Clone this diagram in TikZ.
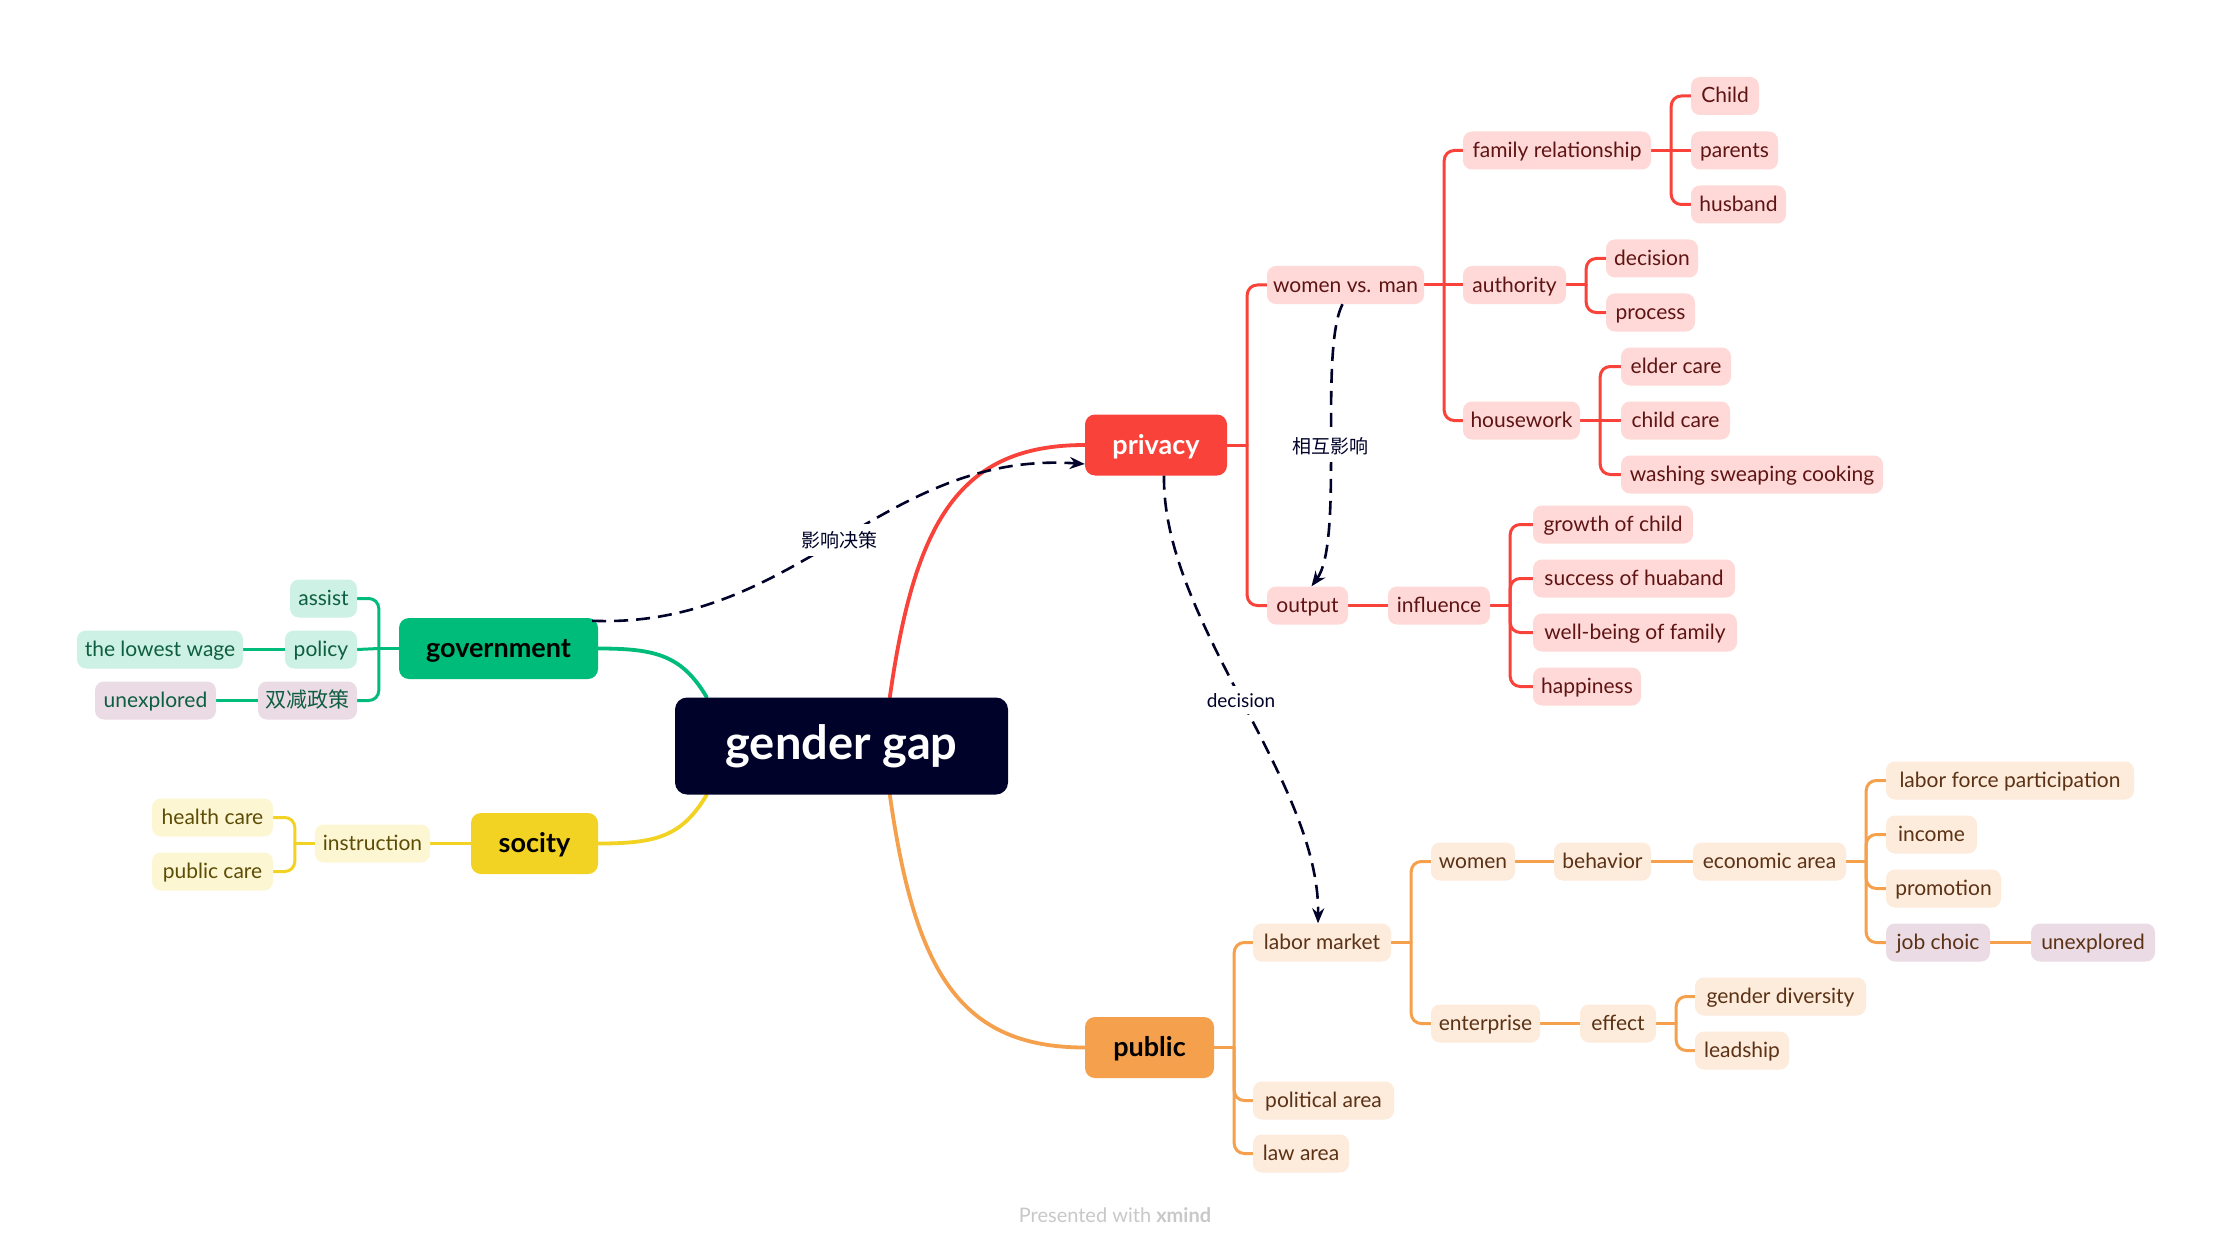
\documentclass[tikz,border=0pt]{standalone}
\usepackage{fontspec}
\setmainfont{Lato}
\newfontfamily\cjk{Noto Sans CJK SC}
\usetikzlibrary{arrows.meta}
\definecolor{navy}{HTML}{000229}
\definecolor{redline}{HTML}{F9423A}
\definecolor{redfill}{HTML}{FED9D7}
\definecolor{redtext}{HTML}{5F1414}
\definecolor{orline}{HTML}{F5A04D}
\definecolor{orfill}{HTML}{FDEBDB}
\definecolor{ortext}{HTML}{5B3216}
\definecolor{grline}{HTML}{00BC7B}
\definecolor{grfill}{HTML}{CDF1E4}
\definecolor{grtext}{HTML}{0E5E41}
\definecolor{yeline}{HTML}{F2D323}
\definecolor{yefill}{HTML}{FDF6D3}
\definecolor{yetext}{HTML}{5D4C05}
\definecolor{pufill}{HTML}{EBDBE4}
\definecolor{wmgray}{HTML}{C8C8C8}
\pgfdeclarelayer{back}
\pgfsetlayers{back,main}
\tikzset{
  base/.style={rounded corners=9pt, inner xsep=4pt, inner ysep=0pt, minimum height=38pt,
    text height=17pt, text depth=3pt, font=\fontsize{21}{25}\selectfont},
  rs/.style={base, fill=redfill, text=redtext},
  os/.style={base, fill=orfill, text=ortext},
  gs/.style={base, fill=grfill, text=grtext},
  ys/.style={base, fill=yefill, text=yetext},
  ps/.style={fill=pufill},
  maintopic/.style={rounded corners=10pt, minimum height=61pt, inner xsep=6pt, inner ysep=0pt,
    text height=21pt, text depth=3pt, font=\fontsize{27}{30}\selectfont\bfseries},
  rootnode/.style={rounded corners=12pt, minimum height=97pt, minimum width=333pt, fill=navy, text=white,
    text height=36pt, text depth=9pt, font=\fontsize{47}{52}\selectfont\bfseries},
  redl/.style={draw=redline, line width=3pt, line cap=round},
  orl/.style={draw=orline, line width=3pt, line cap=round},
  grl/.style={draw=grline, line width=3pt, line cap=round},
  yel/.style={draw=yeline, line width=3pt, line cap=round},
  mainl/.style={line width=3.8pt, line cap=round},
  rel/.style={draw=navy, line width=2.6pt, dash pattern=on 14pt off 8pt, -{Stealth[length=15pt,width=12pt]}},
  rellabel/.style={fill=white, text=navy, inner sep=7pt, font=\fontsize{19}{22}\selectfont},
}
\newcommand\rtree[3]{%
  \draw[#1] (#2.east) -- ++(20,0) coordinate (#2-t);
  \foreach \c in {#3} {\draw[#1, rounded corners=10pt] (#2-t) |- (\c.west);}
}
\newcommand\ltree[3]{%
  \draw[#1] (#2.west) -- ++(-20,0) coordinate (#2-t);
  \foreach \c in {#3} {\draw[#1, rounded corners=10pt] (#2-t) |- (\c.east);}
}
\begin{document}
\begin{tikzpicture}[x=1pt,y=-1pt]
\useasboundingbox (0,0) rectangle (2232,1249);

% root and main topics
\node[rootnode] (root) at (841.5,746) {gender gap};
\node[maintopic, fill=redline, text=white, minimum width=142pt] (privacy) at (1156,445) {privacy};
\node[maintopic, fill=grline, text=black, minimum width=199pt] (government) at (498.5,648.5) {government};
\node[maintopic, fill=yeline, text=black, minimum width=127pt] (socity) at (534.5,843.5) {socity};
\node[maintopic, fill=orline, text=black, minimum width=129pt] (public) at (1149.5,1047.5) {public};

% privacy branch
\node[rs, minimum width=157pt] (wvm) at (1345.5,285) {women vs. man};
\node[rs, minimum width=81pt] (output) at (1307.5,605.5) {output};
\node[rs, minimum width=188pt] (famrel) at (1557,150.5) {family relationship};
\node[rs, minimum width=103pt] (authority) at (1514.5,285) {authority};
\node[rs, minimum width=117pt] (housework) at (1521.5,420.5) {housework};
\node[rs, minimum width=68pt] (child) at (1725,96) {Child};
\node[rs, minimum width=87pt] (parents) at (1734.5,150.5) {parents};
\node[rs, minimum width=95pt] (husband) at (1738.5,204.5) {husband};
\node[rs, minimum width=92pt] (decision) at (1652,258.5) {decision};
\node[rs, minimum width=89pt] (process) at (1650.5,312.5) {process};
\node[rs, minimum width=110pt] (elder) at (1676,366.5) {elder care};
\node[rs, minimum width=109pt] (childcare) at (1675.5,420.5) {child care};
\node[rs, minimum width=262pt] (washing) at (1752,474.5) {washing sweaping cooking};
\node[rs, minimum width=102pt] (influence) at (1439,605.5) {influence};
\node[rs, minimum width=160pt] (growth) at (1613,524.5) {growth of child};
\node[rs, minimum width=202pt] (success) at (1634,578.5) {success of huaband};
\node[rs, minimum width=204pt] (wellbeing) at (1635,632.5) {well-being of family};
\node[rs, minimum width=108pt] (happiness) at (1587,686.5) {happiness};

% public branch
\node[os, minimum width=138pt] (labormarket) at (1322,942.5) {labor market};
\node[os, minimum width=141pt] (political) at (1323.5,1100.5) {political area};
\node[os, minimum width=96pt] (law) at (1301,1153.5) {law area};
\node[os, minimum width=84pt] (women) at (1473,861.5) {women};
\node[os, minimum width=109pt] (enterprise) at (1485.5,1023.5) {enterprise};
\node[os, minimum width=97pt] (behavior) at (1602.5,861.5) {behavior};
\node[os, minimum width=153pt] (econ) at (1769.5,861.5) {economic area};
\node[os, minimum width=76pt] (effect) at (1618,1023.5) {effect};
\node[os, minimum width=171pt] (genderdiv) at (1780.5,996.5) {gender diversity};
\node[os, minimum width=94pt] (leadship) at (1742,1050.5) {leadship};
\node[os, minimum width=248pt] (lfp) at (2010,780.5) {labor force participation};
\node[os, minimum width=91pt] (income) at (1931.5,834.5) {income};
\node[os, minimum width=115pt] (promotion) at (1943.5,888.5) {promotion};
\node[os, ps, minimum width=104pt] (jobchoic) at (1938,942.5) {job choic};
\node[os, ps, minimum width=124pt] (unexpB) at (2093,942.5) {unexplored};

% government branch
\node[gs, minimum width=67pt] (assist) at (323.5,598.5) {assist};
\node[gs, minimum width=72pt] (policy) at (321,649.5) {policy};
\node[gs, ps, minimum width=99pt] (sj) at (307.5,700.5) {\cjk 双减政策};
\node[gs, minimum width=166pt] (lowwage) at (160,649.5) {the lowest wage};
\node[gs, ps, minimum width=121pt] (unexpA) at (155.5,700.5) {unexplored};

% socity branch
\node[ys, minimum width=115pt] (instruction) at (372.5,843.5) {instruction};
\node[ys, minimum width=121pt] (health) at (212.5,817.5) {health care};
\node[ys, minimum width=121pt] (pubcare) at (212.5,871.5) {public care};

% watermark
\node[text=wmgray, font=\fontsize{20}{23}\selectfont] (wm) at (1115,1215) {Presented with \textbf{xmind}};

\begin{pgfonlayer}{back}
\fill[white] (0,0) rectangle (2232,1249);
% main curves
\draw[mainl, draw=redline] ([xshift=215pt]root.north west) .. controls +(25,-177) and +(-125,0) .. (privacy.west);
\draw[mainl, draw=orline] ([xshift=215pt]root.south west) .. controls +(25,177) and +(-125,0) .. (public.west);
\draw[mainl, draw=grline] (government.east) .. controls +(58,0) and +(-25,-42) .. ([xshift=32pt]root.north west);
\draw[mainl, draw=yeline] (socity.east) .. controls +(58,0) and +(-25,42) .. ([xshift=32pt]root.south west);
% privacy tree
\rtree{redl}{privacy}{wvm,output}
\rtree{redl}{wvm}{famrel,housework}
\draw[redl] (wvm-t) -- (authority.west);
\rtree{redl}{famrel}{child,husband}
\draw[redl] (famrel-t) -- (parents.west);
\rtree{redl}{authority}{decision,process}
\rtree{redl}{housework}{elder,washing}
\draw[redl] (housework-t) -- (childcare.west);
\draw[redl] (output.east) -- (influence.west);
\rtree{redl}{influence}{growth,success,wellbeing,happiness}
% public tree
\rtree{orl}{public}{labormarket,political,law}
\rtree{orl}{labormarket}{women,enterprise}
\draw[orl] (women.east) -- (behavior.west);
\draw[orl] (behavior.east) -- (econ.west);
\rtree{orl}{econ}{lfp,income,promotion,jobchoic}
\draw[orl] (jobchoic.east) -- (unexpB.west);
\draw[orl] (enterprise.east) -- (effect.west);
\rtree{orl}{effect}{genderdiv,leadship}
% government tree
\ltree{grl}{government}{assist,sj}
\draw[grl] (government-t) -- (policy.east);
\draw[grl] (policy.west) -- (lowwage.east);
\draw[grl] (sj.west) -- (unexpA.east);
% socity tree
\draw[yel] (socity.west) -- (instruction.east);
\ltree{yel}{instruction}{health,pubcare}
\end{pgfonlayer}

% relationships
\draw[rel] ([xshift=-6pt,yshift=-3pt]government.north east) .. controls +(205,8) and +(-202,-14) .. node[rellabel, pos=0.5] {\cjk 影响决策} ([yshift=-19pt]privacy.west);
\draw[rel] ([xshift=-3pt]wvm.south) .. controls +(-24,47) and +(33,-45) .. node[rellabel, pos=0.5] {\cjk 相互影响} ([xshift=4pt]output.north);
\draw[rel] ([xshift=8pt]privacy.south) .. controls +(-2,145) and +(2,-143) .. node[rellabel, pos=0.5] {decision} ([xshift=-4pt]labormarket.north);
\end{tikzpicture}
\end{document}
